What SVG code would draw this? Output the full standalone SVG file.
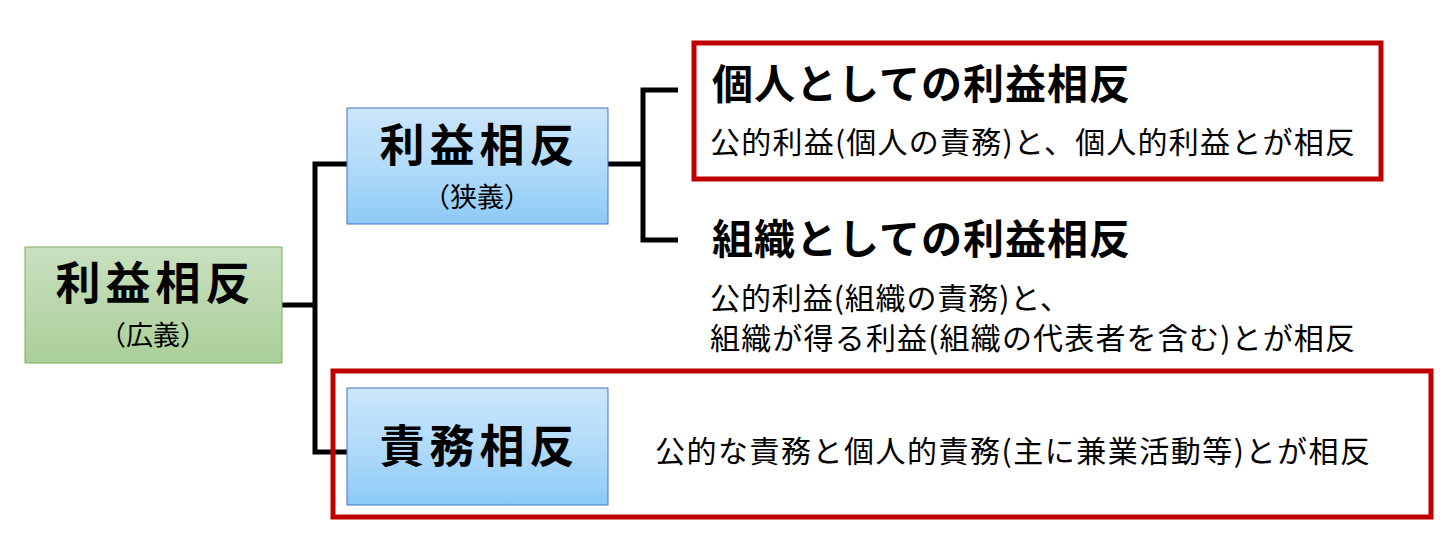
<svg xmlns="http://www.w3.org/2000/svg" width="1455" height="559" viewBox="0 0 1455 559">
<style>
text{font-family:"Noto Sans CJK JP","Noto Sans",sans-serif;fill:#000}
.t{font-weight:bold;font-size:45px;text-anchor:middle}
.s{font-size:27px;text-anchor:middle}
.h{font-weight:bold;font-size:41px}
.d{font-size:30px}
.red{fill:none;stroke:#c00000;stroke-width:5}
.ln{fill:none;stroke:#000;stroke-width:5}
</style>
<defs>
<linearGradient id="g" x1="0" y1="0" x2="0" y2="1"><stop offset="0" stop-color="#c9e0c0"/><stop offset="1" stop-color="#aacf98"/></linearGradient>
<linearGradient id="b" x1="0" y1="0" x2="0" y2="1"><stop offset="0" stop-color="#cce6fb"/><stop offset="0.5" stop-color="#b1dbfa"/><stop offset="1" stop-color="#8ccaf7"/></linearGradient>
</defs>
<g id="connectors">
<polyline class="ln" points="282,305 315,305"/>
<polyline class="ln" points="347,164 315,164 315,452 347,452"/>
<polyline class="ln" points="608,164 643,164"/>
<polyline class="ln" points="678,90 643,90 643,240 678,240"/>
</g>
<g id="wide"><rect x="25" y="247" width="257" height="116" fill="url(#g)" stroke="#7fb05f" stroke-width="1"/>
<text class="t" x="153" y="300" textLength="195">利益相反</text><text class="s" x="153" y="345">（広義）</text></g>
<g id="narrow"><rect x="347" y="108" width="261" height="116" fill="url(#b)" stroke="#4472c4" stroke-width="1"/>
<text class="t" x="477" y="162" textLength="195">利益相反</text><text class="s" x="477" y="207">（狭義）</text></g>
<g id="duty-box"><rect class="red" x="333" y="371" width="1098" height="146"/></g>
<g id="duty"><rect x="347" y="388" width="261" height="117" fill="url(#b)" stroke="#4472c4" stroke-width="1"/>
<text class="t" x="477" y="463" textLength="195">責務相反</text>
<text class="d" x="655" y="462" textLength="715">公的な責務と個人的責務(主に兼業活動等)とが相反</text></g>
<g id="personal"><rect class="red" x="694" y="43" width="687" height="136"/>
<text class="h" x="712" y="99" textLength="418">個人としての利益相反</text>
<text class="d" x="710" y="153" textLength="645">公的利益(個人の責務)と、個人的利益とが相反</text></g>
<g id="org">
<text class="h" x="712" y="254" textLength="418">組織としての利益相反</text>
<text class="d" x="710" y="309" textLength="360">公的利益(組織の責務)と、</text>
<text class="d" x="710" y="349" textLength="645">組織が得る利益(組織の代表者を含む)とが相反</text></g>
</svg>
